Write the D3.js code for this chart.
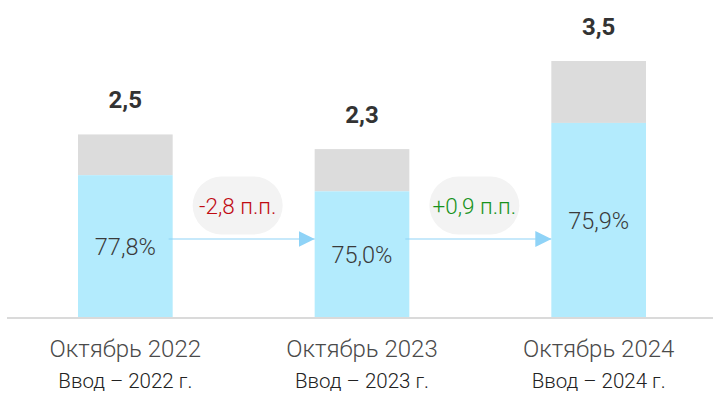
<!DOCTYPE html>
<html>
<head>
<meta charset="utf-8">
<script src="https://cdn.jsdelivr.net/npm/d3@7"></script>
<style>
  html, body { margin: 0; padding: 0; background: #fff; }
  svg { display: block; font-family: Roboto, "Noto Sans", sans-serif; }
</style>
</head>
<body>
<svg id="chart" width="713" height="393"></svg>
<script>
// Data
const periods   = ["Октябрь 2022", "Октябрь 2023", "Октябрь 2024"];
const subLabels = ["Ввод – 2022 г.", "Ввод – 2023 г.", "Ввод – 2024 г."];
const totals    = [2.5, 2.3, 3.5];          // total volume
const shares    = [77.8, 75.0, 75.9];       // share of the lower (blue) part, %
const changes   = ["-2,8 п.п.", "+0,9 п.п."]; // change in share between periods
const changeSign = [-1, 1];

const fmt = v => v.toFixed(1).replace(".", ",");

const svg = d3.select("#chart");
const W = 713, H = 393;
const baseY = 318;

const x = d3.scaleBand().domain(periods).range([7, 717]).paddingInner(0.6).paddingOuter(0.3);
const y = d3.scaleLinear().domain([0, 3.5]).range([baseY, 61]);

const rows = periods.map((p, i) => ({
  period: p, sub: subLabels[i], total: totals[i], share: shares[i],
  blue: totals[i] * shares[i] / 100
}));

// Axis baseline
svg.append("line")
  .attr("x1", 7).attr("x2", W).attr("y1", baseY).attr("y2", baseY)
  .attr("stroke", "#dadada").attr("stroke-width", 2);

const g = svg.append("g");
const bars = g.selectAll("g.bar").data(rows).join("g").attr("class", "bar");

// Upper (gray) part
bars.append("rect")
  .attr("x", d => x(d.period)).attr("width", x.bandwidth())
  .attr("y", d => y(d.total)).attr("height", d => y(d.blue) - y(d.total))
  .attr("fill", "#dcdcdc");

// Lower (blue) part
bars.append("rect")
  .attr("x", d => x(d.period)).attr("width", x.bandwidth())
  .attr("y", d => y(d.blue)).attr("height", d => y(0) - y(d.blue) - 1)
  .attr("fill", "#b3ebfd");

// Total labels
bars.append("text")
  .attr("x", d => x(d.period) + x.bandwidth() / 2)
  .attr("y", d => y(d.total) - 26)
  .attr("text-anchor", "middle")
  .attr("font-size", 24).attr("font-weight", 700).attr("fill", "#333")
  .text(d => fmt(d.total));

// Share labels
bars.append("text")
  .attr("x", d => x(d.period) + x.bandwidth() / 2)
  .attr("y", d => (y(d.blue) + y(0)) / 2)
  .attr("dy", "0.36em")
  .attr("text-anchor", "middle")
  .attr("font-size", 23.5).attr("font-weight", 300).attr("fill", "#3a3a3a")
  .text(d => fmt(d.share) + "%");

// Category labels
bars.append("text")
  .attr("x", d => x(d.period) + x.bandwidth() / 2)
  .attr("y", 357)
  .attr("text-anchor", "middle")
  .attr("font-size", 24).attr("font-weight", 300).attr("fill", "#4a4a4a")
  .text(d => d.period);

bars.append("text")
  .attr("x", d => x(d.period) + x.bandwidth() / 2)
  .attr("y", 388)
  .attr("text-anchor", "middle")
  .attr("font-size", 20.5).attr("font-weight", 300).attr("fill", "#222")
  .text(d => d.sub);

// Arrows and change pills between neighbouring periods
const arrowY = 239;
const defs = svg.append("defs");
defs.append("marker")
  .attr("id", "arrowhead").attr("viewBox", "0 0 16 16")
  .attr("refX", 16).attr("refY", 8)
  .attr("markerWidth", 16).attr("markerHeight", 16)
  .attr("markerUnits", "userSpaceOnUse").attr("orient", "auto")
  .append("path").attr("d", "M0,0 L16,8 L0,16 Z").attr("fill", "#8fd3f7");

const links = changes.map((c, i) => ({ text: c, sign: changeSign[i], from: periods[i], to: periods[i + 1] }));
const lg = g.selectAll("g.link").data(links).join("g").attr("class", "link");

lg.append("line")
  .attr("x1", d => x(d.from) + x.bandwidth() - 4)
  .attr("x2", d => x(d.to))
  .attr("y1", arrowY).attr("y2", arrowY)
  .attr("stroke", "#8fd3f7").attr("stroke-width", 1.2)
  .attr("marker-end", "url(#arrowhead)");

const pillW = 90, pillH = 58;
const pillCx = d => (x(d.from) + x(d.to) + x.bandwidth()) / 2 - 6;
lg.append("rect")
  .attr("x", d => pillCx(d) - pillW / 2).attr("y", 205.5 - pillH / 2)
  .attr("width", pillW).attr("height", pillH)
  .attr("rx", pillH / 2).attr("ry", pillH / 2)
  .attr("fill", "#f3f3f3");

lg.append("text")
  .attr("x", d => pillCx(d)).attr("y", 205.5).attr("dy", "0.36em")
  .attr("text-anchor", "middle")
  .attr("font-size", 22.5).attr("font-weight", 300)
  .attr("fill", d => d.sign < 0 ? "#c00a12" : "#17921b")
  .text(d => d.text);
</script>
</body>
</html>
